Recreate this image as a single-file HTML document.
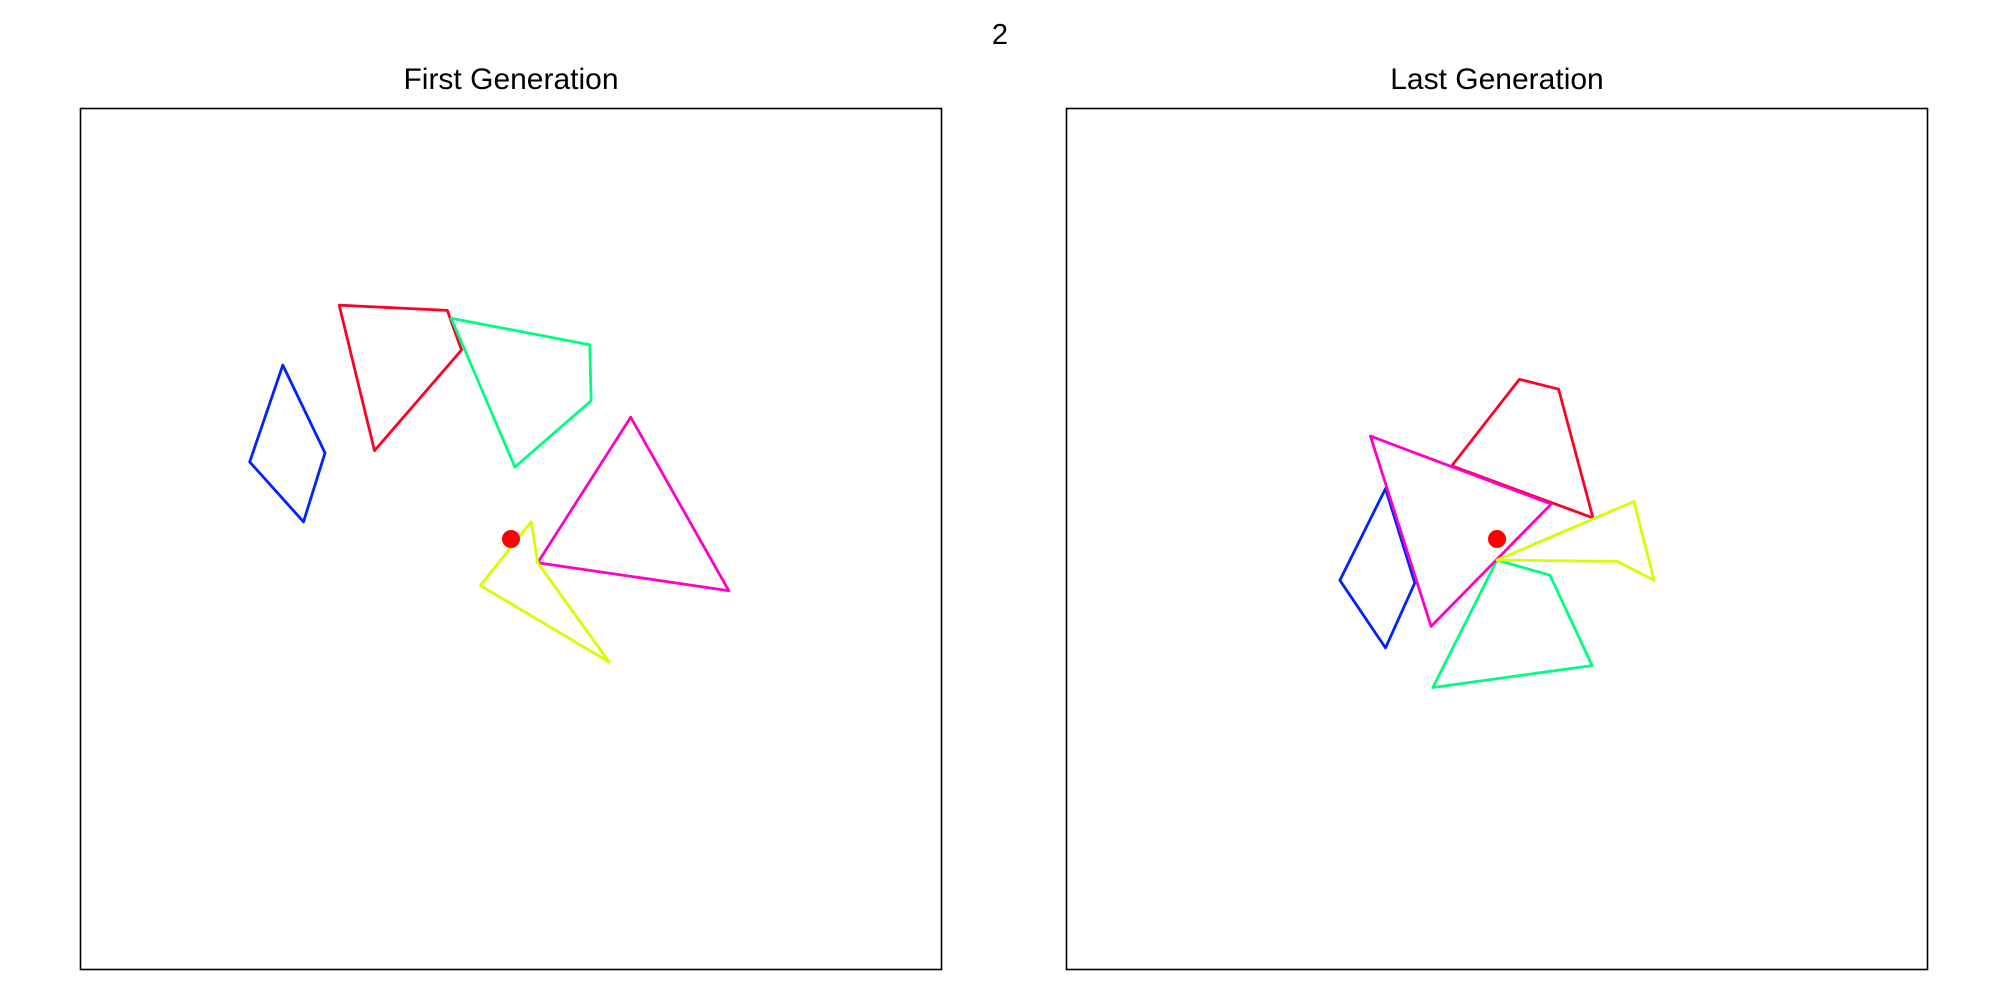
<!DOCTYPE html>
<html><head><meta charset="utf-8"><style>
html,body{margin:0;padding:0;background:#fff;}
svg{display:block;font-family:"Liberation Sans","DejaVu Sans",sans-serif;}
</style></head><body>
<svg id="fig" width="2000" height="1000" viewBox="0 0 2000 1000">
<rect width="2000" height="1000" fill="#fff"/>
<text x="1000" y="44" font-size="29" text-anchor="middle">2</text>
</svg>
<script>
const panelTitles = ["First Generation", "Last Generation"];
const shapeColors = ["#0022ff", "#ff0029", "#00ff80", "#ff00c8", "#d4ff00"];
const firstShapes = [
 [[-5.30,4.04],[-4.32,2.00],[-4.82,0.40],[-6.07,1.79]],
 [[-3.99,5.43],[-1.48,5.31],[-1.15,4.39],[-3.17,2.05]],
 [[-1.39,5.13],[1.83,4.51],[1.86,3.21],[0.09,1.67]],
 [[2.78,2.83],[5.06,-1.20],[0.62,-0.55]],
 [[0.47,0.40],[0.62,-0.55],[2.28,-2.86],[-0.71,-1.08]]
];
const lastShapes = [
 [[-2.59,1.17],[-1.91,-1.02],[-2.59,-2.53],[-3.65,-0.96]],
 [[-1.05,1.70],[0.52,3.71],[1.43,3.48],[2.23,0.49]],
 [[0,-0.49],[1.23,-0.84],[2.21,-2.94],[-1.49,-3.45]],
 [[-2.94,2.39],[1.26,0.81],[-1.53,-2.03]],
 [[0,-0.49],[3.18,0.87],[3.65,-0.96],[2.80,-0.52]]
];
const centerPoint = [0, 0];
const xDomain = [-10, 10];
const yDomain = [-10, 10];

const svg = document.getElementById('fig');
const NS = 'http://www.w3.org/2000/svg';
const panels = [{left:80.5, shapes:firstShapes, name:'first-generation'}, {left:1066.5, shapes:lastShapes, name:'last-generation'}];
const axTop = 108.5, size = 861;
panels.forEach((p, pi) => {
  const g = document.createElementNS(NS, 'g');
  
  
  svg.appendChild(g);
  const sx = v => p.left + (v - xDomain[0]) / (xDomain[1] - xDomain[0]) * size;
  const sy = v => axTop + (yDomain[1] - v) / (yDomain[1] - yDomain[0]) * size;
  const t = document.createElementNS(NS, 'text');
  
  
  t.setAttribute('x', p.left + size / 2); t.setAttribute('y', 89);
  t.setAttribute('font-size', '30'); t.setAttribute('text-anchor', 'middle');
  t.textContent = panelTitles[pi];
  g.appendChild(t);
  p.shapes.forEach((shape, si) => {
    const pl = document.createElementNS(NS, 'polygon');
    
    
    pl.setAttribute('points', shape.map(q => sx(q[0]).toFixed(1) + ',' + sy(q[1]).toFixed(1)).join(' '));
    pl.setAttribute('fill', 'none'); pl.setAttribute('stroke', shapeColors[si]);
    pl.setAttribute('stroke-width', '2.8'); pl.setAttribute('stroke-linejoin', 'round');
    g.appendChild(pl);
  });
  const c = document.createElementNS(NS, 'circle');
  
  
  c.setAttribute('cx', sx(centerPoint[0])); c.setAttribute('cy', sy(centerPoint[1]));
  c.setAttribute('r', '9'); c.setAttribute('fill', '#ff0000');
  g.appendChild(c);
  const r = document.createElementNS(NS, 'rect');
  
  
  r.setAttribute('x', p.left); r.setAttribute('y', axTop);
  r.setAttribute('width', size); r.setAttribute('height', size);
  r.setAttribute('fill', 'none'); r.setAttribute('stroke', '#000'); r.setAttribute('stroke-width', '1.6');
  g.appendChild(r);
});
</script>
</body></html>
